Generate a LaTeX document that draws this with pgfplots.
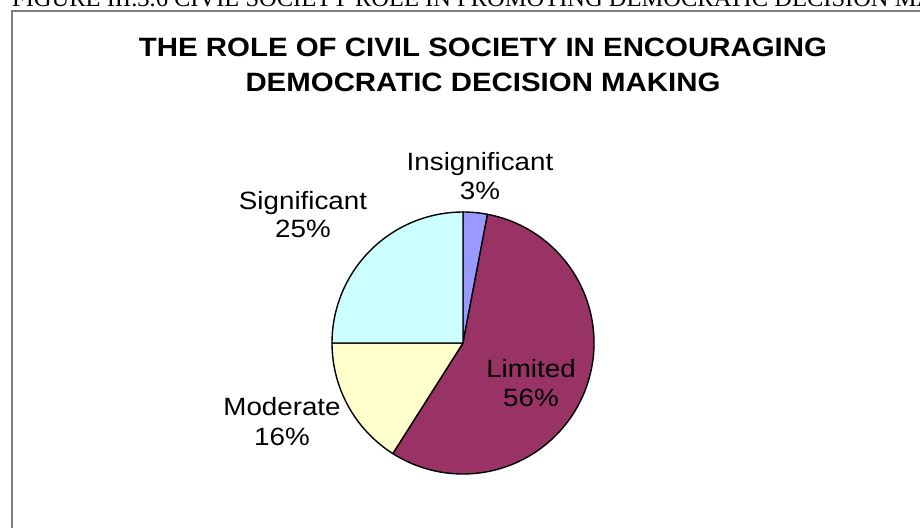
\documentclass[border=0pt]{standalone}
\usepackage{pgfplots}
\pgfplotsset{compat=1.18}
\usepackage{pgfplotstable}
\usepackage{fontspec}
\setmainfont{Liberation Sans}
\newfontfamily\timesfont{Liberation Serif}

\definecolor{cInsig}{HTML}{9999FF}
\definecolor{cLim}{HTML}{993366}
\definecolor{cMod}{HTML}{FFFFCC}
\definecolor{cSig}{HTML}{CCFFFF}
\definecolor{cBorder}{HTML}{7F7F7F}

% shares in percent, clockwise from 12 o'clock
\pgfplotstableread{
label share
Insignificant 3
Limited 56
Moderate 16
Significant 25
}\piedata

\begin{document}
\begin{tikzpicture}
\path[use as bounding box] (0,0) rectangle (920pt,527pt);
\pgfplotstablegetelem{0}{share}\of\piedata \let\vA\pgfplotsretval
\pgfplotstablegetelem{1}{share}\of\piedata \let\vB\pgfplotsretval
\pgfplotstablegetelem{2}{share}\of\piedata \let\vC\pgfplotsretval
\pgfplotstablegetelem{3}{share}\of\piedata \let\vD\pgfplotsretval
\pgfmathsetmacro\aA{90}
\pgfmathsetmacro\aB{\aA-3.6*\vA}
\pgfmathsetmacro\aC{\aB-3.6*\vB}
\pgfmathsetmacro\aD{\aC-3.6*\vC}
\pgfmathsetmacro\aE{\aD-3.6*\vD}
\begin{scope}
\clip (0,0) rectangle (920pt,527pt);
\node[anchor=base west, inner sep=0pt, font=\timesfont\fontsize{24.5}{24.5}\selectfont] at (12pt,520pt) {FIGURE III.3.6 CIVIL SOCIETY ROLE IN PROMOTING DEMOCRATIC DECISION MAKING};
\end{scope}
\begin{axis}[at={(0,0)}, anchor=south west, x=1pt, y=1pt,
  xmin=0, xmax=920, ymin=0, ymax=527, hide axis, clip=false]
\draw[cBorder, line width=1.1pt] (axis cs:12,-20) -- (axis cs:12,516) -- (axis cs:940,516);
\filldraw[fill=cInsig, draw=black, line width=1.4pt, line join=round] (axis cs:463,184) -- ++(\aA:131pt) arc[start angle=\aA, end angle=\aB, radius=131pt] -- cycle;
\filldraw[fill=cLim, draw=black, line width=1.4pt, line join=round] (axis cs:463,184) -- ++(\aB:131pt) arc[start angle=\aB, end angle=\aC, radius=131pt] -- cycle;
\filldraw[fill=cMod, draw=black, line width=1.4pt, line join=round] (axis cs:463,184) -- ++(\aC:131pt) arc[start angle=\aC, end angle=\aD, radius=131pt] -- cycle;
\filldraw[fill=cSig, draw=black, line width=1.4pt, line join=round] (axis cs:463,184) -- ++(\aD:131pt) arc[start angle=\aD, end angle=\aE, radius=131pt] -- cycle;
% title
\node[anchor=base, inner sep=0pt, xscale=1.11, font=\bfseries\fontsize{26.5}{30}\selectfont] at (axis cs:483,470) {THE ROLE OF CIVIL SOCIETY IN ENCOURAGING};
\node[anchor=base, inner sep=0pt, xscale=1.11, font=\bfseries\fontsize{26.5}{30}\selectfont] at (axis cs:483,435) {DEMOCRATIC DECISION MAKING};
% labels
\tikzset{lab/.style={anchor=base, inner sep=0pt, xscale=1.11, font=\fontsize{25}{29}\selectfont}}
\node[lab] at (axis cs:480,356) {Insignificant};
\node[lab] at (axis cs:480,327) {3\%};
\node[lab] at (axis cs:531,149) {Limited};
\node[lab] at (axis cs:531,120) {56\%};
\node[lab] at (axis cs:282,111) {Moderate};
\node[lab] at (axis cs:282,81) {16\%};
\node[lab] at (axis cs:303,317) {Significant};
\node[lab] at (axis cs:303,289) {25\%};
\end{axis}
\end{tikzpicture}
\end{document}
